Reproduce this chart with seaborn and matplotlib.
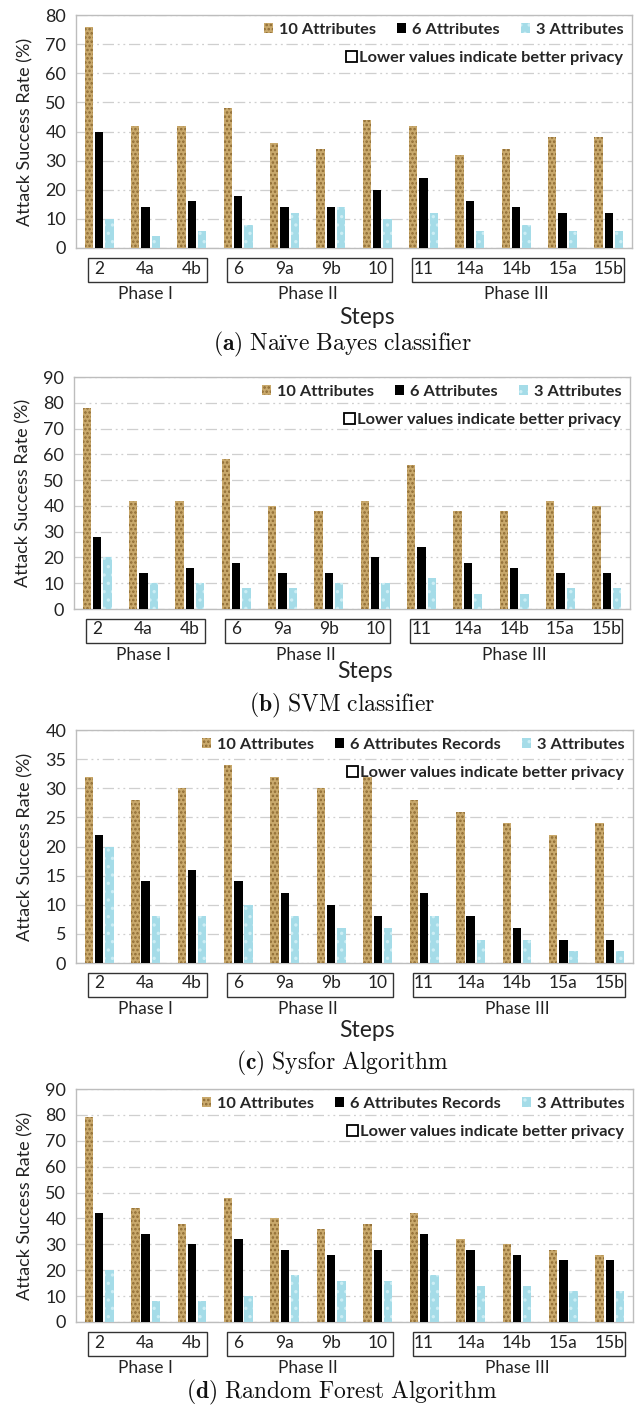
import numpy as np
import pandas as pd
import seaborn as sns
import matplotlib
matplotlib.use("Agg")
import matplotlib.pyplot as plt
from matplotlib.patches import Patch, Rectangle
from matplotlib.transforms import blended_transform_factory

# ---- data -------------------------------------------------------------
steps = ["2", "4a", "4b", "6", "9a", "9b", "10", "11", "14a", "14b", "15a", "15b"]
phase_names = ["Phase I", "Phase II", "Phase III"]
phase_first = [0, 3, 7]
phase_last = [2, 6, 11]

nb_10 = [76, 42, 42, 48, 36, 34, 44, 42, 32, 34, 38, 38]
nb_6 = [40, 14, 16, 18, 14, 14, 20, 24, 16, 14, 12, 12]
nb_3 = [10, 4, 6, 8, 12, 14, 10, 12, 6, 8, 6, 6]

svm_10 = [78, 42, 42, 58, 40, 38, 42, 56, 38, 38, 42, 40]
svm_6 = [28, 14, 16, 18, 14, 14, 20, 24, 18, 16, 14, 14]
svm_3 = [20, 10, 10, 8, 8, 10, 10, 12, 6, 6, 8, 8]

sysfor_10 = [32, 28, 30, 34, 32, 30, 32, 28, 26, 24, 22, 24]
sysfor_6 = [22, 14, 16, 14, 12, 10, 8, 12, 8, 6, 4, 4]
sysfor_3 = [20, 8, 8, 10, 8, 6, 6, 8, 4, 4, 2, 2]

rf_10 = [79, 44, 38, 48, 40, 36, 38, 42, 32, 30, 28, 26]
rf_6 = [42, 34, 30, 32, 28, 26, 28, 34, 28, 26, 24, 24]
rf_3 = [20, 8, 8, 10, 18, 16, 16, 18, 14, 14, 12, 12]

series_a = ["10 Attributes", "6 Attributes", "3 Attributes"]
series_b = ["10 Attributes", "6 Attributes Records", "3 Attributes"]
note_text = "Lower values indicate better privacy"
ylabel = "Attack Success Rate (%)"

# ---- styling ----------------------------------------------------------
sns.set_style("white")
plt.rcParams["font.family"] = ["Lato", "DejaVu Sans"]
plt.rcParams["mathtext.fontset"] = "cm"
plt.rcParams["hatch.linewidth"] = 1.2

GOLD = "#C9A96C"
GOLD_DOTS = "#8E6B33"
CYAN = "#A5DCE8"
CYAN_DOTS = "#CDEEF5"
GRID = "#cfcfcf"
FRAME = "#bdbdbd"
TXT = "#222222"

styles = [
    dict(facecolor=GOLD, edgecolor=GOLD_DOTS, hatch="...."),
    dict(facecolor="black", edgecolor="black", hatch=None),
    dict(facecolor=CYAN, edgecolor=CYAN_DOTS, hatch=".."),
]

panels = [
    dict(vals=(nb_10, nb_6, nb_3), names=series_a, ymax=80, step=10,
         rect=(76, 15, 632, 248), steps_label=True, steps_y=-0.30,
         tag="(a)", caption="Naïve Bayes classifier", cap_y=344),
    dict(vals=(svm_10, svm_6, svm_3), names=series_a, ymax=90, step=10,
         rect=(74, 377, 630, 609), steps_label=True, steps_y=-0.27,
         tag="(b)", caption="SVM classifier", cap_y=705),
    dict(vals=(sysfor_10, sysfor_6, sysfor_3), names=series_b, ymax=40, step=5,
         rect=(76, 730, 633, 963), steps_label=True, steps_y=-0.29,
         tag="(c)", caption="Sysfor Algorithm", cap_y=1063),
    dict(vals=(rf_10, rf_6, rf_3), names=series_b, ymax=90, step=10,
         rect=(76, 1089, 633, 1322), steps_label=False, steps_y=None,
         tag="(d)", caption="Random Forest Algorithm", cap_y=1392),
]

W, H = 635, 1405
fig = plt.figure(figsize=(W / 100, H / 100), dpi=100)

for p in panels:
    x0, y0, x1, y1 = p["rect"]
    ax = fig.add_axes([x0 / W, 1 - y1 / H, (x1 - x0) / W, (y1 - y0) / H])

    df = pd.DataFrame({
        "Step": np.tile(steps, 3),
        "Series": np.repeat(p["names"], len(steps)),
        "Rate": np.concatenate([np.asarray(v, dtype=float) for v in p["vals"]]),
    })
    sns.barplot(data=df, x="Step", y="Rate", hue="Series", order=steps,
                hue_order=p["names"], width=0.66, gap=0.18, ax=ax,
                legend=False, errorbar=None, saturation=1)

    # apply per-series fill / texture
    for container, st in zip(ax.containers, styles):
        for bar in container:
            bar.set_facecolor(st["facecolor"])
            bar.set_edgecolor(st["edgecolor"])
            bar.set_linewidth(0)
            if st["hatch"]:
                bar.set_hatch(st["hatch"])
            bar.set_zorder(3)

    ax.set_xlim(-0.5, len(steps) - 0.5)
    ax.set_ylim(0, p["ymax"])
    ax.set_yticks(np.arange(0, p["ymax"] + 1, p["step"]))
    ax.yaxis.grid(True, color=GRID, linestyle=(0, (9, 3, 1.5, 3, 1.5, 3)), linewidth=0.9)
    ax.set_axisbelow(True)
    for sp in ax.spines.values():
        sp.set_color(FRAME)
        sp.set_linewidth(1.0)
        sp.set_visible(True)

    ax.tick_params(axis="y", length=0, labelsize=13, pad=7, labelcolor=TXT)
    ax.tick_params(axis="x", length=0, labelsize=12.5, pad=9, labelcolor=TXT)
    ax.set_xlabel("")
    ax.set_ylabel(ylabel, fontsize=13, color=TXT)
    ax.yaxis.set_label_coords(-0.077, 0.5)

    # phase boxes around the step labels, with phase names underneath
    trans = blended_transform_factory(ax.transData, ax.transAxes)
    for name, a, b in zip(phase_names, phase_first, phase_last):
        ax.add_patch(Rectangle((a - 0.25, -0.145), (b + 0.32) - (a - 0.25), 0.10,
                               transform=trans, fill=False, edgecolor="#333333",
                               linewidth=1.0, clip_on=False))
        ax.text((a + b) / 2, -0.197, name, transform=trans, ha="center", va="center",
                fontsize=12.5, color=TXT)
    if p["steps_label"]:
        ax.text(0.523, p["steps_y"], "Steps", transform=ax.transAxes, ha="center",
                va="center", fontsize=16.5, color=TXT)

    # legends
    handles = [Patch(facecolor=st["facecolor"], edgecolor=st["edgecolor"],
                     hatch=st["hatch"], linewidth=0) for st in styles]
    leg1 = ax.legend(handles, p["names"], loc="upper right", bbox_to_anchor=(0.99, 0.98),
                     ncol=3, frameon=False, handlelength=0.55, handleheight=0.55,
                     handletextpad=0.35, columnspacing=1.3, borderaxespad=0, borderpad=0.2,
                     prop=dict(weight="bold", size=11.8))
    ax.add_artist(leg1)
    ax.legend([Patch(facecolor="white", edgecolor="black", linewidth=1.3)], [note_text],
              loc="upper right", bbox_to_anchor=(0.99, 0.86), frameon=False,
              handlelength=0.65, handleheight=0.65, handletextpad=0.15, borderaxespad=0,
              borderpad=0.2, prop=dict(weight="bold", size=11.8))

    # caption: bold tag followed by the sub-figure title in Computer Modern
    title = p["caption"].replace(" ", r"\ ")
    fig.text(0.539, 1 - p["cap_y"] / H, r"$\mathbf{%s}\ \mathrm{%s}$" % (p["tag"], title),
             ha="center", va="center", fontsize=17, color="#111111")

fig.savefig("out.png", dpi=100)
